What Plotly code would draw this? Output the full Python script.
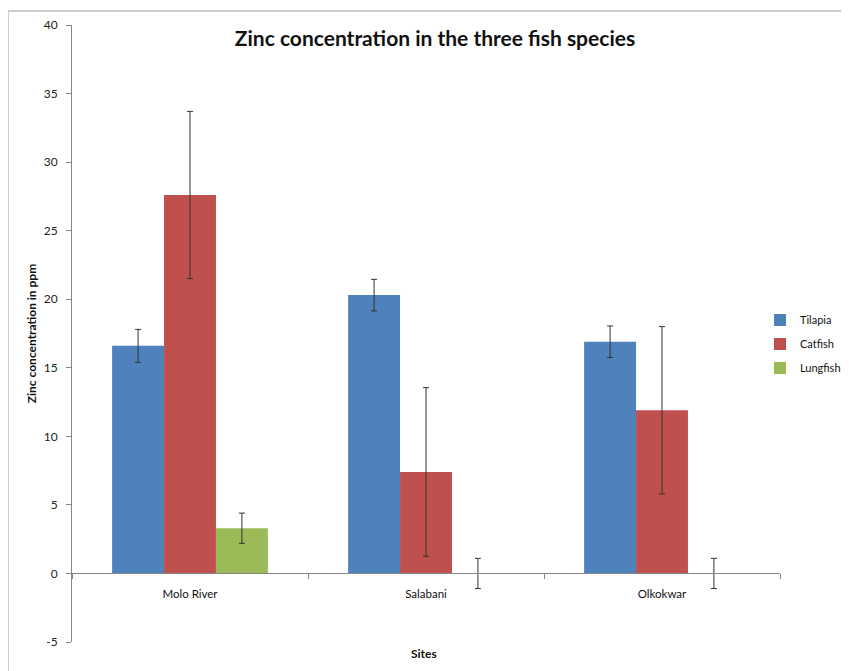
import plotly.graph_objects as go

sites = ["Molo River", "Salabani", "Olkokwar"]
species = ["Tilapia", "Catfish", "Lungfish"]
tilapia = [16.6, 20.3, 16.9]
tilapia_err = [1.2, 1.15, 1.15]
catfish = [27.6, 7.4, 11.9]
catfish_err = [6.1, 6.15, 6.1]
lungfish = [3.3, 0.0, 0.0]
lungfish_err = [1.1, 1.1, 1.1]
colors = ["#4F81BD", "#C0504D", "#9BBB59"]
y_ticks = [-5, 0, 5, 10, 15, 20, 25, 30, 35, 40]
y_ticktext = ["-5", "0", "5", "10", "15", "20", "25", "30", "35", "40"]

FONT = "Lato"
values = [tilapia, catfish, lungfish]
errors = [tilapia_err, catfish_err, lungfish_err]

fig = go.Figure()
for name, vals, errs, col in zip(species, values, errors, colors):
    fig.add_trace(go.Bar(
        x=sites, y=vals, name=name, legendgroup=name,
        marker=dict(color=col, line=dict(width=0)),
        error_y=dict(type="data", array=errs, visible=True, color="#333333",
                     thickness=1, width=3),
    ))

# figure is rendered with an 8px page offset; layout numbers below account for it
L, T, PW, PH = 64, 17, 708, 617
W, H = 841, 663
ymin, ymax = -5, 40


def px(x):
    return (x - L) / PW


def py(y):
    return (T + PH - y) / PH


fig.update_layout(
    width=W, height=H,
    margin=dict(l=L, r=W - L - PW, t=T, b=H - T - PH, autoexpand=False),
    paper_bgcolor="white", plot_bgcolor="white",
    barmode="group", bargap=0.34, bargroupgap=0,
    font=dict(family=FONT, color="#222222"),
    title=dict(text="<b>Zinc concentration in the three fish species</b>",
               x=427 / W, xanchor="center", y=1 - 31 / H, yanchor="middle",
               font=dict(size=21, color="#111111", family=FONT)),
    showlegend=True,
    legend=dict(x=px(752), xanchor="left", y=py(336), yanchor="middle",
                font=dict(size=11, color="#111111", family=FONT),
                itemwidth=30, tracegroupgap=5, bgcolor="rgba(0,0,0,0)"),
    xaxis=dict(anchor="free", position=(0 - ymin) / (ymax - ymin),
               showline=True, linecolor="#868686", linewidth=1,
               ticks="outside", ticklen=5, tickcolor="#868686",
               tickson="boundaries", ticklabelstandoff=10,
               tickfont=dict(size=11.5, color="#111111", family=FONT),
               showgrid=False, zeroline=False),
    yaxis=dict(range=[ymin, ymax], tickvals=y_ticks, ticktext=y_ticktext,
               showline=True, ticklabelstandoff=6,
               linecolor="#868686", linewidth=1, ticks="outside", ticklen=5,
               tickcolor="#868686", showgrid=False, zeroline=False,
               tickfont=dict(size=12, color="#222222", family=FONT),
               title=dict(text="<b>Zinc concentration in ppm</b>", standoff=4,
                          font=dict(size=12, color="#111111", family=FONT))),
    annotations=[dict(text="<b>Sites</b>", xref="paper", yref="paper",
                      x=px(416), y=py(645),
                      xanchor="center", yanchor="middle", showarrow=False,
                      font=dict(size=12, color="#111111", family=FONT))],
    shapes=[dict(type="rect", xref="paper", yref="paper",
                 x0=px(0), x1=px(846), y0=py(668), y1=py(3),
                 line=dict(color="#BFBFBF", width=1.5), layer="below")],
)

fig.write_html("out.html")
